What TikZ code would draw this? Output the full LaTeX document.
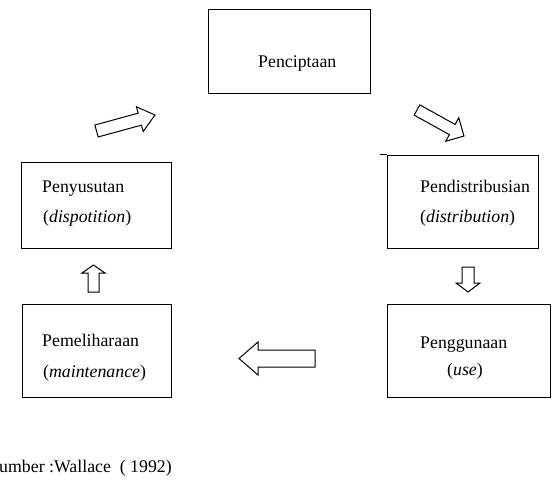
\documentclass[tikz,border=0pt]{standalone}
\usepackage{fontspec}
\setmainfont{Liberation Serif}
\newcommand{\blkarrow}[7]{%
  \begin{scope}[shift={(#1,#2)},rotate=#3]
    \draw[blk] (0,-#5/2) -- (#4-#7,-#5/2) -- (#4-#7,-#6/2) -- (#4,0)
      -- (#4-#7,#6/2) -- (#4-#7,#5/2) -- (0,#5/2) -- cycle;
  \end{scope}}
\begin{document}
\begin{tikzpicture}[x=1pt,y=-1pt,
  box/.style={draw,line width=1pt,inner sep=0pt,rectangle},
  lbl/.style={font=\fontsize{17.8}{21}\selectfont,inner sep=0pt,anchor=base west},
  blk/.style={draw,line width=1pt,line join=miter,fill=white}]
\useasboundingbox (0,0) rectangle (554,487);
% boxes
\node[box,minimum width=162pt,minimum height=83pt] (cre) at (289,51.5) {};
\node[box,minimum width=150pt,minimum height=86pt] (dis) at (96,205) {};
\node[box,minimum width=151pt,minimum height=93pt] (dst) at (462.5,201.5) {};
\node[box,minimum width=149pt,minimum height=93pt] (mai) at (96.5,350.5) {};
\node[box,minimum width=163pt,minimum height=93pt] (use) at (468.5,350.5) {};
\coordinate (dstext) at ([xshift=-7pt]dst.north west);
\draw[line width=1pt] (dstext) -- (dst.north west);
% labels
\node[lbl] (t1) at (258,67) {Penciptaan};
\node[lbl] (t2) at (42,192) {Penyusutan};
\node[lbl] (t3) at (43,222) {(\textit{dispotition})};
\node[lbl] (t4) at (420,192) {Pendistribusian};
\node[lbl] (t5) at (420,222) {(\textit{distribution})};
\node[lbl] (t6) at (42,346) {Pemeliharaan};
\node[lbl] (t7) at (43,377) {(\textit{maintenance})};
\node[lbl] (t8) at (420,348) {Penggunaan};
\node[lbl] (t9) at (447,375) {(\textit{use})};
\node[lbl] (src) at (-1,472) {umber :Wallace\ \ ( 1992)};
% block arrows
\blkarrow{96.5}{131}{15.3}{60.6}{12.4}{25.7}{15.7}
\blkarrow{417}{110}{-29}{53.7}{11.7}{26.8}{13.4}
\blkarrow{315}{358.5}{180}{76}{17}{33}{19}
\blkarrow{93.5}{292}{90}{27}{11}{23}{8}
\blkarrow{468}{267}{-90}{25}{12}{24}{9}
\end{tikzpicture}
\end{document}
